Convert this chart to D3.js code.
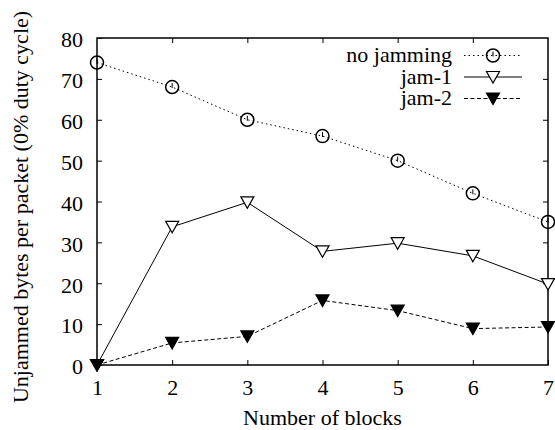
<!DOCTYPE html>
<html>
<head>
<meta charset="utf-8">
<script src="https://cdn.jsdelivr.net/npm/d3@7"></script>
<style>
  body { margin: 0; background: #fff; }
  svg text { font-family: "Liberation Serif", "Times New Roman", Times, serif; fill: #000; }
</style>
</head>
<body>
<div id="chart"></div>
<script>
// Data
const blocks = [1, 2, 3, 4, 5, 6, 7];
const noJamming = [74, 68, 60, 56, 50, 42, 35];
const jam1 = [0, 33.8, 39.8, 27.8, 29.8, 26.7, 19.8];
const jam2 = [0, 5.4, 7.0, 15.8, 13.3, 8.9, 9.3];
const yTicks = [0, 10, 20, 30, 40, 50, 60, 70, 80];
const seriesNames = ["no jamming", "jam-1", "jam-2"];

const width = 555, height = 430;
const margin = { top: 38, right: 7, bottom: 65, left: 97 };
const fontSize = "22px";

const svg = d3.select("#chart").append("svg")
  .attr("width", width)
  .attr("height", height);

const x = d3.scaleLinear().domain([1, 7]).range([margin.left, width - margin.right]);
const y = d3.scaleLinear().domain([0, 80]).range([height - margin.bottom, margin.top]);

// inward ticks on all four sides
const tickLen = 5;
svg.append("g")
  .attr("transform", `translate(0,${y(0)})`)
  .call(d3.axisBottom(x).tickValues(blocks).tickSizeInner(-tickLen).tickSizeOuter(0).tickFormat(d3.format("d")))
  .call(g => g.select(".domain").remove())
  .call(g => g.attr("font-family", null).attr("font-size", null)
    .selectAll("text").attr("y", 30).attr("dy", 0).style("font-size", fontSize));

svg.append("g")
  .attr("transform", `translate(${x(1)},0)`)
  .call(d3.axisLeft(y).tickValues(yTicks).tickSizeInner(-tickLen).tickSizeOuter(0))
  .call(g => g.select(".domain").remove())
  .call(g => g.attr("font-family", null).attr("font-size", null)
    .selectAll("text").attr("x", -14).attr("dy", "0.4em").style("font-size", fontSize));

svg.append("g")
  .attr("transform", `translate(0,${y(80)})`)
  .call(d3.axisTop(x).tickValues(blocks.slice(1, -1)).tickSizeInner(-tickLen).tickSizeOuter(0).tickFormat(""))
  .call(g => g.select(".domain").remove());

svg.append("g")
  .attr("transform", `translate(${x(7)},0)`)
  .call(d3.axisRight(y).tickValues(yTicks.slice(1, -1)).tickSizeInner(-tickLen).tickSizeOuter(0).tickFormat(""))
  .call(g => g.select(".domain").remove());

svg.selectAll(".tick line").attr("stroke", "#000").attr("stroke-width", 1);

// plot border
svg.append("rect")
  .attr("x", x(1)).attr("y", y(80))
  .attr("width", x(7) - x(1)).attr("height", y(0) - y(80))
  .attr("fill", "none").attr("stroke", "#000").attr("stroke-width", 1.5);

// axis titles
svg.append("text")
  .attr("x", (x(1) + x(7)) / 2).attr("y", 425)
  .attr("text-anchor", "middle").style("font-size", fontSize)
  .text("Number of blocks");

svg.append("text")
  .attr("transform", `translate(28,207) rotate(-90)`)
  .attr("text-anchor", "middle").style("font-size", fontSize)
  .text("Unjammed bytes per packet (0% duty cycle)");

// markers
function circleMark(g) {
  g.append("circle").attr("r", 6.5).attr("fill", "none").attr("stroke", "#000").attr("stroke-width", 1.5);
  g.append("line").attr("x1", 0).attr("x2", 0).attr("y1", -4).attr("y2", 1).attr("stroke", "#000").attr("stroke-width", 1);
}
function triMark(filled) {
  return g => g.append("path")
    .attr("d", "M-6.5,-5.5L6.5,-5.5L0,6Z")
    .attr("fill", filled ? "#000" : "#fff")
    .attr("stroke", "#000").attr("stroke-width", 1.2);
}

const series = [
  { name: seriesNames[0], values: noJamming, dash: "1.5,3", mark: circleMark },
  { name: seriesNames[1], values: jam1, dash: null, mark: triMark(false) },
  { name: seriesNames[2], values: jam2, dash: "4,2.5", mark: triMark(true) }
];

const line = d3.line().x((d, i) => x(blocks[i])).y(d => y(d));

series.forEach(s => {
  svg.append("path")
    .datum(s.values)
    .attr("d", line)
    .attr("fill", "none")
    .attr("stroke", "#000")
    .attr("stroke-width", 1)
    .attr("stroke-dasharray", s.dash);
});
series.forEach(s => {
  s.values.forEach((v, i) => {
    const g = svg.append("g").attr("transform", `translate(${x(blocks[i])},${y(v)})`);
    s.mark(g);
  });
});

// legend
const legend = svg.append("g");
series.forEach((s, i) => {
  const ly = 55.5 + i * 21.5;
  legend.append("text")
    .attr("x", 452).attr("y", ly + 6.5)
    .attr("text-anchor", "end").style("font-size", fontSize)
    .text(s.name);
  legend.append("line")
    .attr("x1", 464).attr("x2", 522).attr("y1", ly).attr("y2", ly)
    .attr("stroke", "#000").attr("stroke-width", 1)
    .attr("stroke-dasharray", s.dash);
  const g = legend.append("g").attr("transform", `translate(493,${ly})`);
  s.mark(g);
});
</script>
</body>
</html>
